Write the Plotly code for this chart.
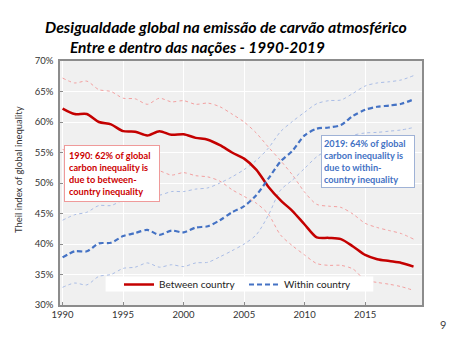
import plotly.graph_objects as go

years = list(range(1990, 2020))

between = [62.2, 61.3, 61.3, 60.0, 59.6, 58.5, 58.4, 57.8, 58.5, 57.9,
           58.0, 57.4, 57.1, 56.2, 55.0, 54.0, 52.2, 49.4, 47.2, 45.4,
           43.2, 41.1, 41.0, 40.8, 39.6, 38.2, 37.5, 37.2, 36.9, 36.3]
between_hi = [67.2, 66.4, 66.7, 65.3, 65.0, 63.9, 63.8, 62.9, 63.9, 63.3,
              63.5, 62.9, 63.1, 62.5, 61.3, 60.0, 58.2, 55.9, 53.7, 51.3,
              48.5, 46.5, 46.2, 46.0, 44.9, 43.4, 42.7, 42.2, 41.7, 40.8]
between_lo = [55.5, 55.0, 55.0, 54.0, 53.8, 53.0, 52.8, 52.2, 52.0, 51.3,
              51.7, 51.2, 51.0, 50.3, 48.9, 47.8, 46.7, 44.9, 41.5, 39.7,
              38.2, 36.8, 36.5, 36.5, 35.9, 34.1, 33.7, 33.4, 33.0, 32.4]

within = [37.8, 38.8, 38.8, 40.1, 40.2, 41.3, 41.8, 42.3, 41.5, 42.2,
          41.9, 42.7, 42.9, 43.9, 45.2, 46.2, 48.0, 50.7, 53.5, 55.3,
          57.8, 58.9, 59.1, 59.5, 61.0, 62.0, 62.5, 62.7, 63.0, 63.7]
within_hi = [43.9, 44.8, 45.2, 46.3, 46.3, 47.2, 47.6, 48.2, 48.0, 48.6,
             48.6, 49.0, 49.2, 50.0, 51.0, 52.2, 53.7, 55.7, 58.4, 60.1,
             61.6, 63.0, 63.5, 63.6, 64.7, 65.9, 66.4, 66.6, 66.9, 67.6]
within_lo = [32.9, 33.6, 33.3, 34.7, 35.0, 36.0, 36.2, 36.9, 36.2, 36.6,
             36.3, 36.9, 37.0, 37.9, 38.9, 40.0, 41.5, 44.7, 48.8, 50.5,
             52.4, 54.3, 55.5, 56.5, 57.8, 58.2, 58.3, 58.5, 58.7, 59.1]

x_ticks = [1990, 1995, 2000, 2005, 2010, 2015]
y_ticks = [30, 35, 40, 45, 50, 55, 60, 65, 70]

RED = "#c40000"
BLUE = "#4472c4"
RED_L = "#f3a0a0"
BLUE_L = "#aabde6"
FONT = "Lato"

fig = go.Figure()
for ys, col in [(between_hi, RED_L), (between_lo, RED_L),
                (within_hi, BLUE_L), (within_lo, BLUE_L)]:
    fig.add_trace(go.Scatter(x=years, y=ys, mode="lines", showlegend=False,
                             line=dict(color=col, width=1, dash="dot",
                                       shape="spline", smoothing=0.8),
                             hoverinfo="skip"))
fig.add_trace(go.Scatter(x=years, y=between, mode="lines", name="Between country",
                         line=dict(color=RED, width=2.5, shape="spline", smoothing=0.8)))
fig.add_trace(go.Scatter(x=years, y=within, mode="lines", name="Within country",
                         line=dict(color=BLUE, width=2.2, dash="5px,3px",
                                   shape="spline", smoothing=0.8)))

fig.update_layout(
    width=450, height=339,
    margin=dict(l=60, r=28, t=61, b=34, autoexpand=False),
    paper_bgcolor="white", plot_bgcolor="#f0f0f0",
    font=dict(family=FONT, color="#333333", size=9),
    showlegend=True,
    legend=dict(orientation="h", x=0.163, xanchor="left", y=0.084, yanchor="middle",
                bgcolor="rgba(0,0,0,0)", font=dict(size=10, color="#222222"),
                entrywidth=80, entrywidthmode="pixels", itemwidth=30,
                tracegroupgap=0),
)
fig.update_xaxes(range=[1989.785, 2019.70], tickvals=x_ticks,
                 ticktext=[str(v) for v in x_ticks],
                 showgrid=True, gridcolor="white", gridwidth=1,
                 showline=True, mirror=True, linecolor="#8c8c8c", linewidth=1.5,
                 ticks="inside", ticklen=3, tickcolor="#8c8c8c",
                 tickfont=dict(size=9.5, color="#333333"), zeroline=False)
fig.update_yaxes(range=[30, 70], tickvals=y_ticks,
                 ticktext=[f"{v}%" for v in y_ticks],
                 showgrid=True, gridcolor="white", gridwidth=1,
                 showline=True, mirror=True, linecolor="#8c8c8c", linewidth=1.5,
                 ticks="inside", ticklen=3, tickcolor="#8c8c8c",
                 ticklabelstandoff=3,
                 tickfont=dict(size=9.5, color="#333333"), zeroline=False)

# y-axis title
fig.add_annotation(x=-0.116, y=0.553, xref="paper", yref="paper", xanchor="center",
                   yanchor="middle", showarrow=False, textangle=-90,
                   text="Theil index of global inequality",
                   font=dict(family=FONT, size=9.5, color="#333333"))

# legend background box
fig.add_shape(type="rect", xref="paper", yref="paper", x0=0.126, x1=0.8655,
              y0=0.0556, y1=0.117, fillcolor="white", line=dict(width=0),
              layer="above")

fig.add_annotation(x=1990.12, y=56.16, xref="x", yref="y", xanchor="left", yanchor="top",
                   text="1990: 62% of global<br>carbon inequality is<br>due to between-<br>country inequality",
                   showarrow=False, align="left", bgcolor="white", width=86,
                   bordercolor="#ef9a9a", borderwidth=1, borderpad=4,
                   font=dict(family=FONT, size=9.2, color="#cc0000", weight="bold"))
fig.add_annotation(x=2011.38, y=57.8, xref="x", yref="y", xanchor="left", yanchor="top",
                   text="2019: 64% of global<br>carbon inequality is<br>due to within-<br>country inequality",
                   showarrow=False, align="left", bgcolor="white", width=88,
                   bordercolor="#9fb2d6", borderwidth=1, borderpad=2,
                   font=dict(family=FONT, size=9.2, color=BLUE, weight="bold"))

fig.add_annotation(x=0.4586, y=1.143, xref="paper", yref="paper", xanchor="center",
                   yanchor="middle", showarrow=False,
                   text="<b><i>Desigualdade global na emissão de carvão atmosférico</i></b>",
                   font=dict(family=FONT, size=15.8, color="black"))
fig.add_annotation(x=0.022, y=1.056, xref="paper", yref="paper", xanchor="left",
                   yanchor="middle", showarrow=False,
                   text="<b><i>Entre e dentro das nações - 1990-2019</i></b>",
                   font=dict(family=FONT, size=15.4, color="black"))
fig.add_annotation(x=1.058, y=-0.0805, xref="paper", yref="paper", xanchor="center",
                   yanchor="middle", showarrow=False, text="9",
                   font=dict(family=FONT, size=11, color="#444444"))

fig.write_html("out.html")
